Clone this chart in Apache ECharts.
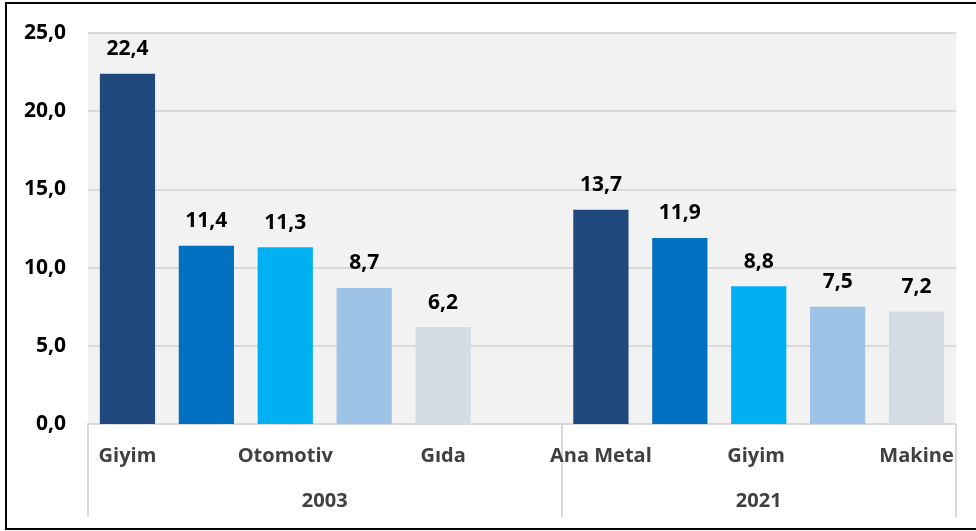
<!DOCTYPE html>
<html>
<head>
<meta charset="utf-8">
<script src="https://cdn.jsdelivr.net/npm/echarts@6/dist/echarts.min.js"></script>
<style>
html,body{margin:0;padding:0;background:#fff;overflow:hidden;width:976px;height:531px;}
#chart{position:absolute;left:0;top:0;width:976px;height:531px;}
#frame{position:absolute;left:5px;top:2px;width:1000px;height:524px;border:2px solid #000;pointer-events:none;}
</style>
</head>
<body>
<div id="chart"></div>
<div id="frame"></div>
<script>
// Categories (11 slots: 5 for 2003, one empty slot, 5 for 2021)
const categories = ['Giyim', 'Tekstil', 'Otomotiv', 'Kimya', 'Gıda', '', 'Ana Metal', 'Kimya ', 'Giyim ', 'Tekstil ', 'Makine'];
const values = [22.4, 11.4, 11.3, 8.7, 6.2, null, 13.7, 11.9, 8.8, 7.5, 7.2];
const groupLabels = ['2003', '2021'];
const yTicks = [0, 5, 10, 15, 20, 25];

// Styles
const barColors = ['#1F497D', '#0070C0', '#00B0F0', '#9DC3E6', '#D6DCE5', '#ffffff', '#1F497D', '#0070C0', '#00B0F0', '#9DC3E6', '#D6DCE5'];
const FONT = '"Open Sans", "Liberation Sans", sans-serif';

// Half-slot axis for the group level (boundaryGap false, 23 positions)
const halfSlots = [];
for (let i = 0; i <= 22; i++) halfSlots.push('');
halfSlots[6] = groupLabels[0];
halfSlots[17] = groupLabels[1];
const sepIdx = [0, 12, 22];
const lblIdx = [6, 17];

const fmt = v => Number(v).toFixed(1).replace('.', ',');

const chart = echarts.init(document.getElementById('chart'), null, {renderer: 'canvas'});
chart.setOption({
  animation: false,
  backgroundColor: '#ffffff',
  grid: {left: 88, right: 20, top: 33, bottom: 107, show: true, backgroundColor: '#F2F2F2', borderWidth: 0},
  xAxis: [
    {
      type: 'category',
      data: categories,
      axisLine: {show: true, lineStyle: {color: '#D9D9D9', width: 2}},
      axisTick: {show: false},
      axisLabel: {interval: 1, margin: 22, color: '#404040', fontFamily: FONT, fontWeight: 'bold', fontSize: 20}
    },
    {
      type: 'category',
      position: 'bottom',
      data: halfSlots,
      boundaryGap: false,
      axisLine: {show: false},
      axisTick: {show: true, interval: (i) => sepIdx.includes(i), length: 93, lineStyle: {color: '#D9D9D9', width: 2}},
      axisLabel: {interval: (i) => lblIdx.includes(i), margin: 67, color: '#404040', fontFamily: FONT, fontWeight: 'bold', fontSize: 20},
      splitLine: {show: false}
    }
  ],
  yAxis: {
    type: 'value',
    min: yTicks[0],
    max: yTicks[yTicks.length - 1],
    interval: yTicks[1] - yTicks[0],
    axisLine: {show: false},
    axisTick: {show: false},
    splitLine: {show: true, lineStyle: {color: '#D9D9D9', width: 2}},
    axisLabel: {formatter: fmt, margin: 22, color: '#000', fontFamily: FONT, fontWeight: 'bold', fontSize: 21}
  },
  series: [{
    type: 'bar',
    xAxisIndex: 0,
    data: values.map(v => v === null ? '-' : v),
    barCategoryGap: '30%',
    itemStyle: {color: (p) => barColors[p.dataIndex]},
    label: {
      show: true,
      position: 'top',
      distance: 14,
      formatter: (p) => (p.value === '-' || p.value == null) ? '' : fmt(p.value),
      color: '#000',
      fontFamily: FONT,
      fontWeight: 'bold',
      fontSize: 21
    }
  }]
});
</script>
</body>
</html>
